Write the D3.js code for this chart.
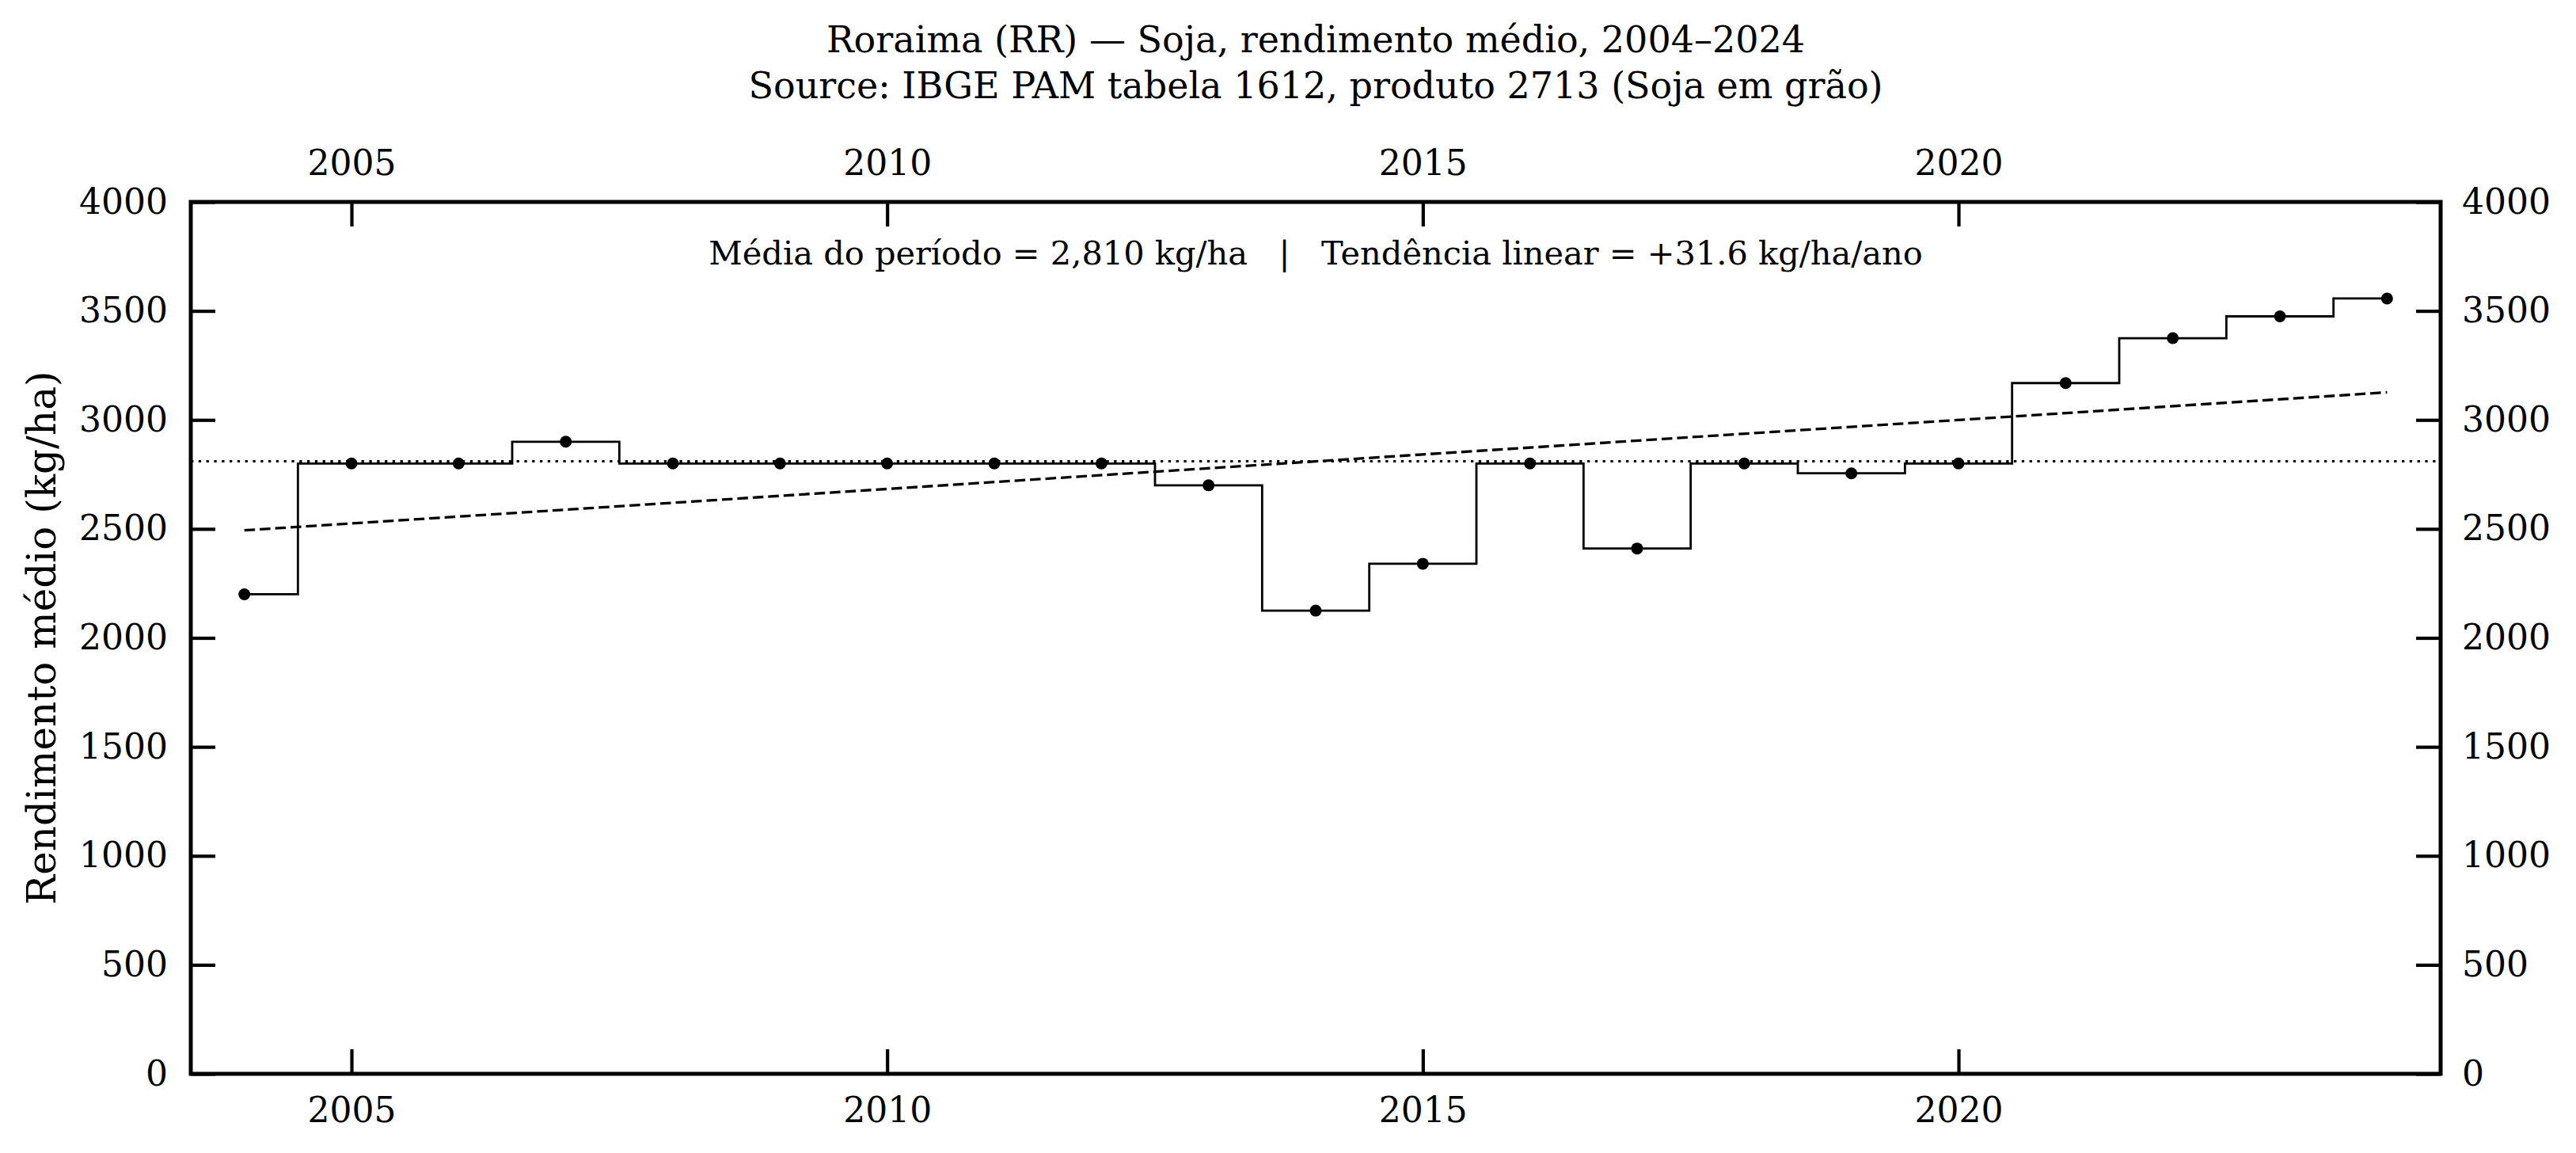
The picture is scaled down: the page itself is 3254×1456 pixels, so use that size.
<!DOCTYPE html>
<html>
<head>
<meta charset="utf-8">
<script src="https://cdn.jsdelivr.net/npm/d3@7/dist/d3.min.js"></script>
<style>
body{margin:0;background:#fff;}
text{font-family:"DejaVu Serif",serif;fill:#000;}
</style>
</head>
<body>
<svg id="chart"></svg>
<script>
// data (kg/ha)
var years = [2004,2005,2006,2007,2008,2009,2010,2011,2012,2013,2014,
             2015,2016,2017,2018,2019,2020,2021,2022,2023,2024];
var yields = [2200,2800,2800,2900,2800,2800,2800,2800,2800,2700,2125,
              2340,2800,2410,2800,2755,2800,3169,3375,3475,3557];
var xTicks = [2005,2010,2015,2020];
var yTicks = [0,500,1000,1500,2000,2500,3000,3500,4000];
var titleLines = ["Roraima (RR) \u2014 Soja, rendimento m\u00e9dio, 2004\u20132024",
                  "Source: IBGE PAM tabela 1612, produto 2713 (Soja em gr\u00e3o)"];
var yLabel = "Rendimento m\u00e9dio (kg/ha)";
var note = "M\u00e9dia do per\u00edodo = 2,810 kg/ha   |   Tend\u00eancia linear = +31.6 kg/ha/ano";

var screen = {width:3254,height:1456};
var margins = {left:241,right:171,top:255,bottom:100};
var graph = {
    width:screen.width-margins.left-margins.right,
    height:screen.height-margins.top-margins.bottom
};

var svg = d3.select("#chart")
    .attr("width",screen.width)
    .attr("height",screen.height);

var xScale = d3.scaleLinear()
    .domain([2003.5,2024.5])
    .range([0,graph.width]);

var yScale = d3.scaleLinear()
    .domain([0,4000])
    .range([graph.height,0]);

var rows = years.map(function(y,i){ return {year:y,value:yields[i]}; });

var plot = svg.append("g")
    .attr("transform","translate("+margins.left+","+margins.top+")");

// mean and least squares trend
var mean = d3.mean(yields);
var mx = d3.mean(years);
var sxy = d3.sum(rows,function(d){ return (d.year-mx)*(d.value-mean); });
var sxx = d3.sum(years,function(y){ return (y-mx)*(y-mx); });
var slope = sxy/sxx;
var trend = function(y){ return mean+slope*(y-mx); };

plot.append("line")
    .attr("x1",0).attr("x2",graph.width)
    .attr("y1",yScale(mean)).attr("y2",yScale(mean))
    .attr("stroke","#000")
    .attr("stroke-width",3)
    .attr("stroke-dasharray","3.3,6.5");

var ends = d3.extent(years);
plot.append("line")
    .attr("x1",xScale(ends[0])).attr("x2",xScale(ends[1]))
    .attr("y1",yScale(trend(ends[0]))).attr("y2",yScale(trend(ends[1])))
    .attr("stroke","#000")
    .attr("stroke-width",3.3)
    .attr("stroke-dasharray","13.5,6");

var stepLine = d3.line()
    .x(function(d){ return xScale(d.year); })
    .y(function(d){ return yScale(d.value); })
    .curve(d3.curveStep);

plot.append("path")
    .datum(rows)
    .attr("d",stepLine)
    .attr("fill","none")
    .attr("stroke","#000")
    .attr("stroke-width",2.8);

plot.selectAll(".dot")
    .data(rows)
    .enter()
    .append("circle")
    .attr("class","dot")
    .attr("cx",function(d){ return xScale(d.year); })
    .attr("cy",function(d){ return yScale(d.value); })
    .attr("r",7.5)
    .attr("fill","#000");

// axes, ticks pointing inward
var styleAxis = function(g){
    g.select(".domain").remove();
    g.selectAll(".tick line").attr("stroke","#000").attr("stroke-width",4.2);
    g.selectAll(".tick text").attr("font-size",44).attr("font-family","DejaVu Serif");
};

plot.append("g")
    .attr("transform","translate(0,"+graph.height+")")
    .call(d3.axisBottom(xScale).tickValues(xTicks).tickFormat(d3.format("d"))
        .tickSize(-31).tickPadding(30))
    .call(styleAxis);

plot.append("g")
    .call(d3.axisTop(xScale).tickValues(xTicks).tickFormat(d3.format("d"))
        .tickSize(-31).tickPadding(34))
    .call(styleAxis);

plot.append("g")
    .call(d3.axisLeft(yScale).tickValues(yTicks).tickFormat(d3.format("d"))
        .tickSize(-31).tickPadding(29))
    .call(styleAxis);

plot.append("g")
    .attr("transform","translate("+graph.width+",0)")
    .call(d3.axisRight(yScale).tickValues(yTicks).tickFormat(d3.format("d"))
        .tickSize(-31).tickPadding(27))
    .call(styleAxis);

plot.append("rect")
    .attr("x",0).attr("y",0)
    .attr("width",graph.width).attr("height",graph.height)
    .attr("fill","none")
    .attr("stroke","#000")
    .attr("stroke-width",5);

// labels
plot.append("text")
    .text(note)
    .attr("x",graph.width/2)
    .attr("y",79)
    .attr("text-anchor","middle")
    .attr("font-size",41.5)
    .style("white-space","pre");

svg.append("text")
    .text(yLabel)
    .attr("text-anchor","middle")
    .attr("font-size",50)
    .attr("transform","translate(70,"+(margins.top+graph.height/2)+") rotate(-90)");

svg.selectAll(".title")
    .data(titleLines)
    .enter()
    .append("text")
    .attr("class","title")
    .text(function(d){ return d; })
    .attr("x",margins.left+graph.width/2)
    .attr("y",function(d,i){ return 66+i*58; })
    .attr("text-anchor","middle")
    .attr("font-size",46);
</script>
</body>
</html>
